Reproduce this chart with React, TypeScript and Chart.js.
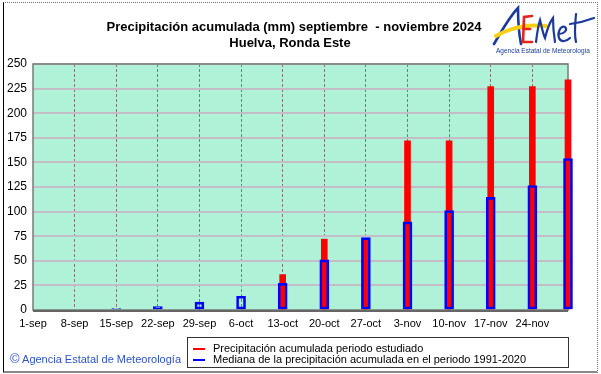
import React, { useEffect, useRef } from 'react';
import { Chart, registerables } from 'chart.js';

Chart.register(...registerables);

// ---- data ----
const startDate = '2024-09-01';
const barDates = [
  '2024-09-01', '2024-09-08', '2024-09-15', '2024-09-22', '2024-09-29',
  '2024-10-06', '2024-10-13', '2024-10-20', '2024-10-27',
  '2024-11-03', '2024-11-10', '2024-11-17', '2024-11-24', '2024-11-30',
];
const tickDates = [
  '2024-09-01', '2024-09-08', '2024-09-15', '2024-09-22', '2024-09-29',
  '2024-10-06', '2024-10-13', '2024-10-20', '2024-10-27',
  '2024-11-03', '2024-11-10', '2024-11-17', '2024-11-24',
];
const tickLabels = [
  '1-sep', '8-sep', '15-sep', '22-sep', '29-sep', '6-oct', '13-oct',
  '20-oct', '27-oct', '3-nov', '10-nov', '17-nov', '24-nov',
];
const endDate = '2024-11-30';
const observed = [0, 0, 0, 0, 0, 0, 36, 72, 72, 172, 172, 227, 227, 234];
const median = [0, 0, 1.5, 3.5, 8, 14, 27, 51, 73.5, 89.5, 101, 114.5, 126.5, 154];
const yMax = 250;
const yStep = 25;

const legendObserved = 'Precipitación acumulada periodo estudiado';
const legendMedian = 'Mediana de la precipitación acumulada en el periodo 1991-2020';
const titleLine1 = 'Precipitación acumulada (mm) septiembre  - noviembre 2024';
const titleLine2 = 'Huelva, Ronda Este';

const dayOffset = (d: string) =>
  Math.round((Date.parse(d + 'T00:00:00Z') - Date.parse(startDate + 'T00:00:00Z')) / 86400000);

const FONT = '"Liberation Sans", Arial, Helvetica, sans-serif';

const plotDecor = {
  id: 'plotDecor',
  beforeDraw(chart: any) {
    const { ctx, chartArea: a } = chart;
    ctx.save();
    ctx.fillStyle = '#b0f2d8';
    ctx.fillRect(a.left, a.top, a.right - a.left, a.bottom - a.top);
    ctx.restore();
  },
  beforeDatasetsDraw(chart: any) {
    const { ctx, chartArea: a } = chart;
    ctx.save();
    ctx.strokeStyle = '#7a7a7a';
    ctx.lineWidth = 1.5;
    ctx.strokeRect(a.left, a.top, a.right - a.left, a.bottom - a.top);
    ctx.strokeStyle = '#666666';
    ctx.lineWidth = 2;
    ctx.beginPath();
    ctx.moveTo(a.left, a.bottom + 1);
    ctx.lineTo(a.right, a.bottom + 1);
    ctx.stroke();
    ctx.restore();
  },
};

function ChartCanvas() {
  const ref = useRef<HTMLCanvasElement | null>(null);
  useEffect(() => {
    if (!ref.current) return;
    const tickOffsets = tickDates.map(dayOffset);
    const chart = new Chart(ref.current, {
      type: 'bar',
      data: {
        datasets: [
          {
            label: legendObserved,
            data: barDates.map((d, i) => ({ x: dayOffset(d), y: observed[i] })),
            backgroundColor: (c: any) => (c.raw && c.raw.y > 0 ? '#ff0000' : 'rgba(0,0,0,0)'),
            borderWidth: 0,
            barThickness: 6,
            grouped: false,
            order: 2,
            clip: false,
          } as any,
          {
            label: legendMedian,
            data: barDates.map((d, i) => ({ x: dayOffset(d), y: median[i] })),
            backgroundColor: 'rgba(0,0,0,0)',
            borderColor: (c: any) => (c.raw && c.raw.y > 0 ? '#0000ff' : 'rgba(0,0,0,0)'),
            borderWidth: 2,
            borderSkipped: false,
            barThickness: 9,
            grouped: false,
            order: 1,
            clip: false,
          } as any,
        ],
      },
      options: {
        animation: false,
        responsive: false,
        maintainAspectRatio: false,
        layout: { padding: { left: 0, top: 64, right: 33, bottom: 44 } },
        plugins: {
          legend: { display: false },
          tooltip: { enabled: false },
          title: { display: false },
        },
        scales: {
          x: {
            type: 'linear',
            offset: false,
            min: 0,
            max: dayOffset(endDate),
            afterBuildTicks: (s: any) => {
              s.ticks = tickOffsets.map((v) => ({ value: v }));
            },
            afterFit: (s: any) => {
              s.height = 20;
            },
            ticks: {
              autoSkip: false,
              maxRotation: 0,
              padding: 7,
              color: '#000',
              font: { family: FONT, size: 11 },
              callback: (v: any) => {
                const i = tickOffsets.indexOf(Number(v));
                return i >= 0 ? tickLabels[i] : '';
              },
            },
            grid: {
              offset: false,
              drawTicks: false,
              color: (c: any) => (c.index === 0 ? 'rgba(0,0,0,0)' : '#7a7a7a'),
              lineWidth: 1,
            },
            border: { display: false, dash: [3, 2] },
          },
          y: {
            min: 0,
            max: yMax,
            afterFit: (s: any) => {
              s.width = 33;
            },
            ticks: {
              stepSize: yStep,
              padding: 6,
              color: '#000',
              font: { family: FONT, size: 12 },
            },
            grid: {
              drawTicks: false,
              color: (c: any) => (c.index === 0 ? 'rgba(0,0,0,0)' : '#c6bcc8'),
              lineWidth: 2,
            },
            border: { display: false },
          },
        },
      } as any,
      plugins: [plotDecor],
    });
    return () => chart.destroy();
  }, []);
  return (
    <canvas
      ref={ref}
      width={601}
      height={374}
      style={{ position: 'absolute', left: 0, top: 0, width: 601, height: 374 }}
    />
  );
}

function Logo() {
  return (
    <svg
      width={110}
      height={58}
      viewBox="0 0 110 58"
      style={{ position: 'absolute', left: 488, top: 2 }}
    >
      <path d="M6 42 C14 28 22 14 30 6 C30 18 31 32 33 42" stroke="#1b3a9c" strokeWidth={2.6} fill="none" strokeLinecap="round" />
      <path d="M8 34 C22 26 40 22 58 24" stroke="#f7d117" strokeWidth={4} fill="none" strokeLinecap="round" />
      <path d="M44 14 L36 15 L35 40 L44 40 M35 27 L42 27" stroke="#e4251b" strokeWidth={2.6} fill="none" strokeLinecap="round" />
      <path d="M48 40 C49 32 50 24 52 18 C54 26 55 32 57 36 C59 28 62 20 65 16 C65 26 66 34 67 40" stroke="#1b3a9c" strokeWidth={2.2} fill="none" strokeLinecap="round" />
      <path d="M71 32 C76 32 80 28 77 25 C73 23 69 30 71 36 C73 41 79 39 82 36" stroke="#1b3a9c" strokeWidth={2.2} fill="none" strokeLinecap="round" />
      <path d="M88 12 C87 22 86 32 88 40 M82 22 C90 21 98 19 106 16" stroke="#1b3a9c" strokeWidth={2.2} fill="none" strokeLinecap="round" />
      <text x={55} y={51} fontSize={6.5} fill="#1b3a9c" textAnchor="middle" fontFamily={FONT}>
        Agencia Estatal de Meteorología
      </text>
    </svg>
  );
}

export default function App() {
  useEffect(() => {
    document.body.style.margin = '0';
  }, []);
  return (
    <div
      style={{
        position: 'absolute',
        left: 0,
        top: 0,
        width: 601,
        height: 374,
        background: '#ffffff',
        overflow: 'hidden',
        fontFamily: FONT,
      }}
    >
      <div
        style={{
          position: 'absolute',
          left: 3,
          top: 2,
          width: 593,
          height: 368,
          borderTop: '1px dotted #777',
          borderRight: '1px dotted #777',
          borderBottom: '2px solid #888',
          borderLeft: '1px solid #000',
        }}
      />
      <ChartCanvas />
      <div
        style={{
          position: 'absolute',
          left: 0,
          width: 588,
          top: 19,
          textAlign: 'center',
          fontWeight: 'bold',
          fontSize: 13,
          lineHeight: '16px',
          color: '#000',
          whiteSpace: 'pre',
        }}
      >
        <div>{titleLine1}</div>
        <div style={{ marginRight: 8 }}>{titleLine2}</div>
      </div>
      <Logo />
      <div
        style={{
          position: 'absolute',
          left: 10,
          top: 352,
          fontSize: 11,
          lineHeight: '14px',
          color: '#2f52c8',
          whiteSpace: 'nowrap',
        }}
      >
        <span style={{ fontSize: 13 }}>©</span> Agencia Estatal de Meteorología
      </div>
      <div
        style={{
          position: 'absolute',
          left: 187,
          top: 337,
          width: 380,
          height: 29,
          border: '1px solid #333',
          background: '#fff',
          fontSize: 11,
          lineHeight: '11px',
          color: '#000',
        }}
      >
        {[
          { c: '#ff0000', t: legendObserved },
          { c: '#0000ff', t: legendMedian },
        ].map((it, i) => (
          <div key={i} style={{ position: 'absolute', left: 0, top: 5 + i * 11, height: 11, whiteSpace: 'nowrap' }}>
            <span
              style={{
                position: 'absolute',
                left: 5,
                top: 5,
                width: 12,
                height: 1.5,
                background: it.c,
              }}
            />
            <span style={{ position: 'absolute', left: 25, top: 0 }}>{it.t}</span>
          </div>
        ))}
      </div>
    </div>
  );
}
